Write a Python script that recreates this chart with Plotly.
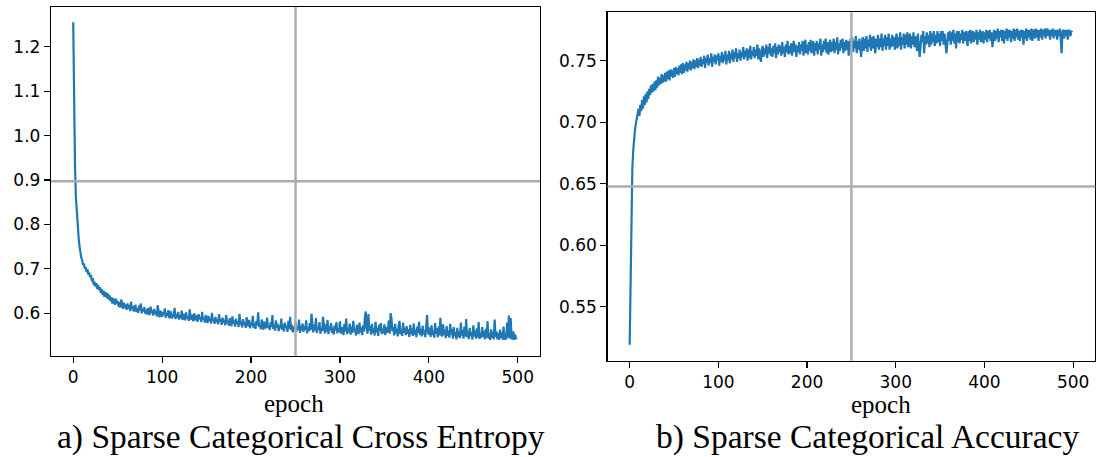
import plotly.graph_objects as go

# ---------------- data ----------------
epochs = list(range(500))

loss = [
    1.255, 1.050, 0.930, 0.862, 0.822, 0.795, 0.772, 0.752, 0.737, 0.726,
    0.720, 0.709, 0.712, 0.700, 0.704, 0.693, 0.699, 0.687, 0.692, 0.681,
    0.686, 0.672, 0.679, 0.664, 0.671, 0.660, 0.668, 0.655, 0.664, 0.652,
    0.659, 0.646, 0.655, 0.641, 0.651, 0.637, 0.648, 0.640, 0.634, 0.645,
    0.631, 0.640, 0.627, 0.636, 0.622, 0.634, 0.626, 0.619, 0.633, 0.622,
    0.628, 0.615, 0.625, 0.613, 0.631, 0.616, 0.610, 0.624, 0.612, 0.620,
    0.608, 0.622, 0.611, 0.618, 0.605, 0.626, 0.609, 0.616, 0.604, 0.613,
    0.619, 0.603, 0.611, 0.601, 0.617, 0.606, 0.622, 0.600, 0.610, 0.604,
    0.614, 0.599, 0.608, 0.597, 0.612, 0.603, 0.596, 0.615, 0.601, 0.607,
    0.595, 0.610, 0.599, 0.605, 0.593, 0.618, 0.598, 0.591, 0.606, 0.600,
    0.592, 0.603, 0.596, 0.611, 0.590, 0.601, 0.594, 0.607, 0.589, 0.599,
    0.604, 0.588, 0.597, 0.592, 0.612, 0.587, 0.598, 0.590, 0.603, 0.586,
    0.595, 0.589, 0.606, 0.585, 0.594, 0.599, 0.584, 0.602, 0.588, 0.593,
    0.583, 0.609, 0.590, 0.586, 0.597, 0.582, 0.600, 0.589, 0.584, 0.595,
    0.581, 0.598, 0.587, 0.592, 0.580, 0.603, 0.585, 0.590, 0.579, 0.596,
    0.586, 0.578, 0.594, 0.583, 0.589, 0.577, 0.601, 0.582, 0.588, 0.576,
    0.592, 0.580, 0.586, 0.575, 0.598, 0.581, 0.587, 0.574, 0.590, 0.579,
    0.585, 0.573, 0.596, 0.578, 0.583, 0.572, 0.589, 0.580, 0.571, 0.593,
    0.577, 0.584, 0.570, 0.588, 0.576, 0.582, 0.569, 0.599, 0.575, 0.581,
    0.568, 0.587, 0.574, 0.580, 0.567, 0.591, 0.576, 0.570, 0.585, 0.566,
    0.579, 0.572, 0.594, 0.567, 0.578, 0.565, 0.583, 0.573, 0.602, 0.569,
    0.576, 0.564, 0.586, 0.571, 0.563, 0.581, 0.575, 0.566, 0.590, 0.568,
    0.574, 0.562, 0.580, 0.569, 0.596, 0.565, 0.573, 0.561, 0.584, 0.568,
    0.576, 0.560, 0.572, 0.566, 0.588, 0.563, 0.575, 0.559, 0.579, 0.567,
    0.571, 0.558, 0.583, 0.565, 0.592, 0.562, 0.574, 0.557, 0.569, 0.564,
    0.580, 0.559, 0.570, 0.563, 0.586, 0.556, 0.573, 0.561, 0.577, 0.558,
    0.571, 0.563, 0.584, 0.555, 0.568, 0.560, 0.578, 0.562, 0.599, 0.566,
    0.557, 0.574, 0.561, 0.589, 0.556, 0.569, 0.563, 0.580, 0.554, 0.567,
    0.560, 0.592, 0.565, 0.555, 0.575, 0.559, 0.585, 0.553, 0.570, 0.562,
    0.578, 0.556, 0.568, 0.552, 0.573, 0.561, 0.580, 0.555, 0.566, 0.558,
    0.582, 0.554, 0.569, 0.560, 0.551, 0.576, 0.559, 0.588, 0.553, 0.567,
    0.557, 0.577, 0.552, 0.570, 0.556, 0.583, 0.560, 0.565, 0.550, 0.574,
    0.562, 0.553, 0.579, 0.557, 0.568, 0.551, 0.573, 0.559, 0.590, 0.604,
    0.566, 0.554, 0.598, 0.561, 0.571, 0.552, 0.576, 0.556, 0.566, 0.550,
    0.581, 0.557, 0.567, 0.549, 0.574, 0.560, 0.578, 0.553, 0.565, 0.555,
    0.575, 0.551, 0.569, 0.556, 0.563, 0.584, 0.554, 0.600, 0.587, 0.560,
    0.569, 0.550, 0.576, 0.555, 0.565, 0.548, 0.572, 0.583, 0.553, 0.563,
    0.549, 0.579, 0.556, 0.567, 0.551, 0.571, 0.554, 0.564, 0.547, 0.574,
    0.553, 0.566, 0.549, 0.577, 0.552, 0.563, 0.546, 0.570, 0.556, 0.581,
    0.551, 0.565, 0.548, 0.572, 0.553, 0.562, 0.546, 0.585, 0.596, 0.558,
    0.552, 0.568, 0.547, 0.573, 0.551, 0.561, 0.545, 0.578, 0.554, 0.566,
    0.546, 0.570, 0.550, 0.590, 0.553, 0.548, 0.575, 0.551, 0.563, 0.544,
    0.571, 0.549, 0.561, 0.545, 0.576, 0.552, 0.564, 0.543, 0.569, 0.548,
    0.558, 0.541, 0.567, 0.547, 0.559, 0.544, 0.579, 0.550, 0.562, 0.543,
    0.570, 0.548, 0.587, 0.546, 0.560, 0.542, 0.567, 0.549, 0.557, 0.541,
    0.573, 0.548, 0.561, 0.543, 0.566, 0.546, 0.580, 0.542, 0.556, 0.545,
    0.569, 0.547, 0.560, 0.541, 0.565, 0.545, 0.582, 0.543, 0.555, 0.540,
    0.564, 0.545, 0.558, 0.541, 0.586, 0.547, 0.559, 0.542, 0.555, 0.540,
    0.563, 0.544, 0.557, 0.541, 0.570, 0.540, 0.554, 0.541, 0.579, 0.545,
    0.595, 0.543, 0.589, 0.548, 0.541, 0.559, 0.540, 0.552, 0.543, 0.545,
]

accuracy = [
    0.519, 0.585, 0.637, 0.662, 0.677, 0.688, 0.694, 0.699, 0.703, 0.705,
    0.711, 0.705, 0.714, 0.709, 0.718, 0.711, 0.721, 0.714, 0.723, 0.716,
    0.725, 0.719, 0.727, 0.722, 0.730, 0.724, 0.731, 0.725, 0.733, 0.726,
    0.734, 0.728, 0.737, 0.730, 0.736, 0.731, 0.739, 0.732, 0.738, 0.733,
    0.740, 0.733, 0.741, 0.735, 0.742, 0.734, 0.743, 0.737, 0.742, 0.736,
    0.744, 0.737, 0.745, 0.739, 0.744, 0.738, 0.746, 0.740, 0.747, 0.739,
    0.748, 0.740, 0.747, 0.742, 0.749, 0.741, 0.748, 0.743, 0.750, 0.742,
    0.749, 0.744, 0.751, 0.743, 0.750, 0.745, 0.752, 0.744, 0.751, 0.746,
    0.753, 0.745, 0.751, 0.747, 0.754, 0.744, 0.752, 0.748, 0.755, 0.746,
    0.752, 0.748, 0.756, 0.745, 0.753, 0.749, 0.755, 0.747, 0.754, 0.750,
    0.756, 0.746, 0.754, 0.749, 0.757, 0.748, 0.755, 0.750, 0.758, 0.747,
    0.755, 0.750, 0.758, 0.748, 0.756, 0.751, 0.759, 0.749, 0.757, 0.752,
    0.760, 0.749, 0.756, 0.752, 0.759, 0.750, 0.757, 0.753, 0.761, 0.751,
    0.758, 0.753, 0.760, 0.750, 0.759, 0.752, 0.762, 0.751, 0.758, 0.754,
    0.761, 0.752, 0.759, 0.754, 0.763, 0.751, 0.760, 0.755, 0.749, 0.758,
    0.762, 0.753, 0.760, 0.755, 0.763, 0.752, 0.761, 0.756, 0.764, 0.754,
    0.760, 0.753, 0.762, 0.756, 0.764, 0.752, 0.761, 0.755, 0.763, 0.757,
    0.762, 0.754, 0.765, 0.756, 0.761, 0.753, 0.763, 0.757, 0.766, 0.755,
    0.762, 0.756, 0.764, 0.754, 0.761, 0.766, 0.757, 0.763, 0.753, 0.762,
    0.757, 0.765, 0.755, 0.763, 0.758, 0.766, 0.754, 0.762, 0.767, 0.756,
    0.763, 0.755, 0.765, 0.758, 0.767, 0.756, 0.762, 0.766, 0.754, 0.764,
    0.758, 0.766, 0.755, 0.764, 0.759, 0.768, 0.754, 0.763, 0.757, 0.766,
    0.759, 0.768, 0.756, 0.765, 0.755, 0.763, 0.767, 0.757, 0.765, 0.758,
    0.768, 0.756, 0.765, 0.759, 0.769, 0.755, 0.764, 0.758, 0.767, 0.760,
    0.768, 0.756, 0.765, 0.758, 0.767, 0.759, 0.766, 0.754, 0.764, 0.768,
    0.759, 0.769, 0.757, 0.766, 0.760, 0.770, 0.756, 0.766, 0.759, 0.768,
    0.760, 0.753, 0.766, 0.769, 0.758, 0.768, 0.760, 0.770, 0.757, 0.767,
    0.761, 0.771, 0.758, 0.769, 0.760, 0.770, 0.762, 0.756, 0.768, 0.761,
    0.771, 0.759, 0.768, 0.761, 0.772, 0.758, 0.768, 0.762, 0.771, 0.759,
    0.769, 0.762, 0.772, 0.759, 0.768, 0.761, 0.771, 0.762, 0.769, 0.759,
    0.768, 0.772, 0.760, 0.769, 0.762, 0.773, 0.759, 0.769, 0.763, 0.772,
    0.760, 0.771, 0.763, 0.773, 0.761, 0.769, 0.772, 0.760, 0.770, 0.763,
    0.773, 0.761, 0.770, 0.764, 0.758, 0.772, 0.765, 0.753, 0.762, 0.771,
    0.765, 0.774, 0.756, 0.770, 0.763, 0.773, 0.764, 0.771, 0.761, 0.774,
    0.763, 0.772, 0.765, 0.774, 0.762, 0.771, 0.764, 0.774, 0.765, 0.772,
    0.762, 0.774, 0.766, 0.774, 0.763, 0.772, 0.765, 0.756, 0.763, 0.773,
    0.766, 0.774, 0.763, 0.773, 0.766, 0.775, 0.764, 0.772, 0.760, 0.774,
    0.765, 0.774, 0.764, 0.772, 0.767, 0.775, 0.764, 0.773, 0.766, 0.774,
    0.767, 0.762, 0.774, 0.766, 0.775, 0.764, 0.772, 0.774, 0.765, 0.773,
    0.767, 0.775, 0.763, 0.773, 0.767, 0.775, 0.765, 0.772, 0.774, 0.764,
    0.773, 0.767, 0.775, 0.765, 0.774, 0.768, 0.775, 0.766, 0.773, 0.761,
    0.768, 0.775, 0.766, 0.774, 0.768, 0.776, 0.765, 0.774, 0.769, 0.775,
    0.766, 0.775, 0.764, 0.774, 0.768, 0.776, 0.766, 0.775, 0.769, 0.775,
    0.765, 0.774, 0.768, 0.776, 0.766, 0.775, 0.769, 0.776, 0.767, 0.774,
    0.766, 0.775, 0.769, 0.775, 0.763, 0.774, 0.768, 0.776, 0.766, 0.775,
    0.769, 0.775, 0.767, 0.776, 0.766, 0.774, 0.775, 0.768, 0.776, 0.769,
    0.775, 0.766, 0.775, 0.769, 0.776, 0.767, 0.775, 0.770, 0.776, 0.768,
    0.775, 0.776, 0.770, 0.775, 0.767, 0.775, 0.770, 0.776, 0.768, 0.775,
    0.770, 0.775, 0.767, 0.775, 0.770, 0.776, 0.768, 0.756, 0.774, 0.775,
    0.768, 0.775, 0.770, 0.775, 0.767, 0.774, 0.775, 0.770, 0.774, 0.773,
]

x_ticks = [0, 100, 200, 300, 400, 500]
loss_ticks = [0.6, 0.7, 0.8, 0.9, 1.0, 1.1, 1.2]
acc_ticks = [0.55, 0.60, 0.65, 0.70, 0.75]
x_title = "epoch"
caption_a = "a) Sparse Categorical Cross Entropy"
caption_b = "b) Sparse Categorical Accuracy"

# ---------------- figure ----------------
W, H = 1096, 457
LINE = "#1f77b4"
GRAY = "#acacac"
TICKFONT = dict(family="DejaVu Sans", size=17, color="black")
SERIF = "Liberation Serif"


def px_x(p):
    return p / W


def px_y(p):
    return 1 - p / H


fig = go.Figure()
fig.add_trace(go.Scatter(x=epochs, y=loss, mode="lines",
                         line=dict(color=LINE, width=2.2),
                         xaxis="x", yaxis="y", showlegend=False,
                         hoverinfo="skip"))
fig.add_trace(go.Scatter(x=epochs, y=accuracy, mode="lines",
                         line=dict(color=LINE, width=2.2),
                         xaxis="x2", yaxis="y2", showlegend=False,
                         hoverinfo="skip"))

common_axis = dict(showline=True, mirror=True, linecolor="black", linewidth=1.2,
                   ticks="outside", ticklen=6, tickwidth=1.2, tickcolor="black",
                   showgrid=False, zeroline=False, tickfont=TICKFONT,
                   automargin=False, fixedrange=True)

fig.update_layout(
    width=W, height=H,
    margin=dict(l=0, r=0, t=0, b=0),
    paper_bgcolor="white", plot_bgcolor="white",
    xaxis=dict(domain=[px_x(51), px_x(540)], range=[-25, 525],
               tickvals=x_ticks, anchor="y", **common_axis),
    yaxis=dict(domain=[px_y(355.7), px_y(7)], range=[0.5045, 1.2895],
               tickvals=loss_ticks, tickformat=".1f", anchor="x", **common_axis),
    xaxis2=dict(domain=[px_x(607.5), px_x(1095.3)], range=[-25, 525],
                tickvals=x_ticks, anchor="y2", **common_axis),
    yaxis2=dict(domain=[px_y(360.7), px_y(12.3)], range=[0.5061, 0.7893],
                tickvals=acc_ticks, tickformat=".2f", anchor="x2", **common_axis),
)

# centre cross lines of each panel
for xr, yr in (("x", "y"), ("x2", "y2")):
    fig.add_shape(type="line", xref=f"{xr} domain", yref=f"{yr} domain",
                  x0=0.5, x1=0.5, y0=0, y1=1,
                  line=dict(color=GRAY, width=2.5), layer="above")
    fig.add_shape(type="line", xref=f"{xr} domain", yref=f"{yr} domain",
                  x0=0, x1=1, y0=0.5, y1=0.5,
                  line=dict(color=GRAY, width=2.5), layer="above")

# axis titles and captions
ann = [
    (x_title, 294, 403, 25),
    (x_title, 881, 404, 25),
    (caption_a, 301, 437, 33.5),
    (caption_b, 867, 437, 33.5),
]
for text, cx, cy, size in ann:
    fig.add_annotation(text=text, xref="paper", yref="paper",
                       x=px_x(cx), y=px_y(cy), xanchor="center", yanchor="middle",
                       showarrow=False,
                       font=dict(family=SERIF, size=size, color="black"))

fig.write_html("out.html",
               config={"displayModeBar": False, "staticPlot": True},
               post_script="document.body.style.margin='0';"
                           "document.body.style.overflow='hidden';")
